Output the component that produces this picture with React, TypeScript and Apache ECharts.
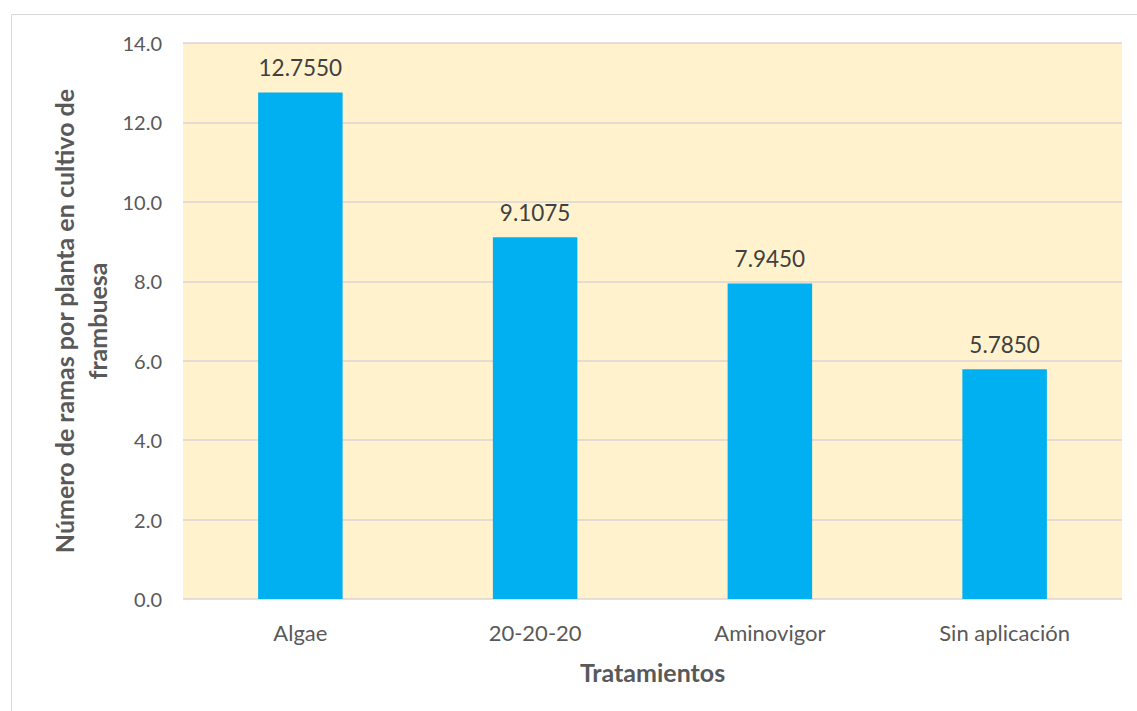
import React, { useEffect, useRef } from "react";
import * as echarts from "echarts";

const categories = ["Algae", "20-20-20", "Aminovigor", "Sin aplicación"];
const values = [12.755, 9.1075, 7.945, 5.785];
const yTicks = { min: 0, max: 14, interval: 2 };
const yTitle = "Número de ramas por planta en cultivo de\nframbuesa";
const xTitle = "Tratamientos";

export default function App() {
  const ref = useRef<HTMLDivElement>(null);
  useEffect(() => {
    const chart = echarts.init(ref.current!, null, { renderer: "svg" });
    const font = "Lato";
    chart.setOption({
      animation: false,
      backgroundColor: "#ffffff",
      textStyle: { fontFamily: font },
      graphic: [
        {
          type: "rect",
          left: 9,
          top: 12,
          shape: { width: 1140, height: 705 },
          style: { fill: "none", stroke: "#d9d9d9", lineWidth: 1 },
          silent: true,
        },
        {
          type: "text",
          x: 80,
          y: 321,
          rotation: Math.PI / 2,
          style: {
            text: yTitle,
            fill: "#595959",
            font: `bold 25px ${font}`,
            align: "center",
            verticalAlign: "middle",
            lineHeight: 33,
          },
          silent: true,
        },
      ],
      grid: {
        left: 183,
        right: 15,
        top: 43,
        bottom: 112,
        show: true,
        backgroundColor: "#FFF2CC",
        borderWidth: 0,
      },
      xAxis: {
        type: "category",
        data: categories,
        name: xTitle,
        nameLocation: "middle",
        nameGap: 60,
        nameTextStyle: { color: "#595959", fontSize: 25, fontWeight: "bold", fontFamily: font },
        axisLine: { show: false },
        axisTick: { show: false },
        axisLabel: { color: "#595959", fontSize: 22, margin: 22, fontFamily: font },
      },
      yAxis: {
        type: "value",
        min: yTicks.min,
        max: yTicks.max,
        interval: yTicks.interval,
        axisLine: { show: false },
        axisTick: { show: false },
        axisLabel: {
          color: "#595959",
          fontSize: 20,
          margin: 21,
          fontFamily: font,
          formatter: (v: number) => v.toFixed(1),
        },
        splitLine: { lineStyle: { color: "#DCD3D9", width: 1.5 } },
      },
      series: [
        {
          type: "bar",
          data: values,
          barWidth: "36%",
          itemStyle: { color: "#00B0F0" },
          label: {
            show: true,
            position: "top",
            distance: 13,
            color: "#404040",
            fontSize: 22.5,
            fontFamily: font,
            formatter: (p: any) => Number(p.value).toFixed(4),
          },
        },
      ],
    });
    return () => chart.dispose();
  }, []);
  return <div ref={ref} style={{ width: 1137, height: 711, position: "absolute", left: 0, top: 0 }} />;
}
